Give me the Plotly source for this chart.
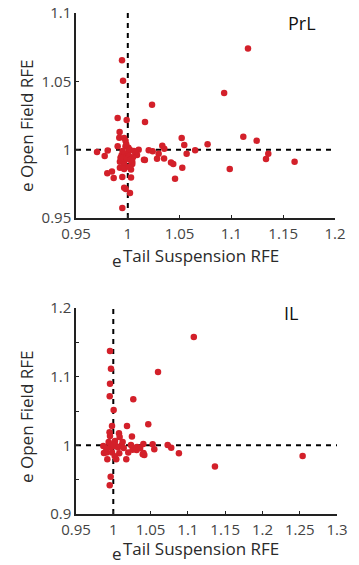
import plotly.graph_objects as go

# ---- PrL panel data ----
prl_x = [1.116, 1.093, 1.1115, 1.1244, 1.1356, 1.1334, 1.161, 1.0984, 1.077, 1.065,
         1.052, 1.0545, 1.0568, 1.0526, 1.0456, 1.0417, 1.0439, 1.035, 1.0333, 1.0352,
         1.0298, 1.0282, 1.0234, 1.024, 1.0202, 1.0166, 1.0156, 1.0165, 1.0105, 1.0089,
         1.0075, 1.005, 1.0043, 1.0031, 1.0031, 1.0021, 0.998, 0.9965, 0.9947, 0.9947,
         0.9944, 0.9954, 0.9989, 0.9902, 0.9921, 0.9918, 0.9965, 0.9978, 0.9902, 0.9978,
         1.0006, 0.9703, 0.9777, 0.9806, 0.9802, 0.9847, 0.9864, 0.9924, 0.9924, 0.9965,
         0.9978, 0.9965, 1.0, 1.0012, 0.9965, 1.0043, 1.0012, 0.999, 0.994, 1.002,
         0.9985, 1.0025, 0.995, 1.006, 0.993]
prl_y = [1.074, 1.0415, 1.0095, 1.0066, 0.9971, 0.9932, 0.9912, 0.9859, 1.0039, 0.9995,
         1.0086, 1.0034, 0.9971, 0.9868, 0.9788, 0.9907, 0.9895, 0.9936, 1.0029, 1.0007,
         0.9971, 0.9934, 1.0329, 0.9988, 0.9995, 1.0203, 0.9927, 0.9925, 1.0, 0.9961,
         0.998, 0.9944, 0.9912, 0.9854, 0.9797, 0.9683, 0.9712, 0.9722, 0.9573, 0.98,
         1.0654, 1.0505, 1.0217, 1.0232, 1.013, 1.0088, 1.0085, 1.0065, 1.0025, 1.0025,
         1.0014, 0.9983, 0.9954, 0.9993, 0.9827, 0.9841, 0.9793, 0.9912, 0.9868, 0.9895,
         0.9932, 0.9951, 0.9976, 0.9951, 0.9859, 0.9895, 0.9873, 0.9932, 0.996, 1.0,
         1.004, 0.9925, 0.999, 0.999, 0.994]

# ---- IL panel data ----
il_x = [1.108, 1.06, 1.2539, 1.1363, 1.088, 1.0777, 1.0729, 1.0528, 1.055, 1.0469,
        1.0268, 1.025, 1.0184, 1.0076, 0.9956, 0.9969, 0.9956, 0.9952, 1.0005, 0.9983,
        0.9965, 0.9952, 1.0403, 1.0416, 1.0395, 1.0313, 1.0318, 1.036, 1.0237, 1.0174,
        1.0201, 1.0112, 1.008, 1.004, 0.992, 0.9911, 0.9866, 0.9875, 0.9938, 0.9956,
        0.995, 1.0023, 1.003, 0.9996, 0.9983, 1.002, 1.0125, 1.014, 1.0063, 0.996,
        0.9905, 0.999, 1.0085, 1.0258, 1.0285, 1.0405]
il_y = [1.1577, 1.1067, 0.9844, 0.969, 0.9884, 0.9966, 1.0005, 1.0015, 0.9942, 1.0306,
        1.067, 1.0127, 1.0281, 1.0175, 1.1373, 1.1116, 1.0898, 1.0713, 1.0514, 1.0281,
        0.9544, 0.9418, 1.0019, 0.9859, 0.987, 0.9932, 0.9975, 0.996, 1.0005, 0.9796,
        0.9894, 1.0, 0.9884, 0.9796, 0.9796, 0.9894, 0.999, 0.989, 1.0048, 1.0136,
        1.019, 1.0063, 0.9995, 0.9985, 0.9894, 0.984, 1.005, 0.996, 0.997, 0.997,
        0.9958, 1.0015, 1.012, 0.9935, 0.996, 0.989]

prl_xticks = [0.95, 1, 1.05, 1.1, 1.15, 1.2]
prl_xlabels = ["0.95", "1", "1.05", "1.1", "1.15", "1.2"]
prl_yticks = [0.95, 1, 1.05, 1.1]
prl_ylabels = ["0.95", "1", "1.05", "1.1"]
il_xticks = [0.95, 1, 1.05, 1.1, 1.15, 1.2, 1.25, 1.3]
il_xlabels = ["0.95", "1", "1.05", "1.1", "1.15", "1.2", "1.25", "1.3"]
il_yticks = [0.9, 1, 1.1, 1.2]
il_ylabels = ["0.9", "1", "1.1", "1.2"]
il_yminor = [0.95, 1.05, 1.15]

RED = "#d3202a"
FONT = "Open Sans"
TICKCOL = "#444444"
TITLECOL = "#2a2a2a"
W, H = 359, 565

fig = go.Figure()
fig.add_trace(go.Scatter(x=prl_x, y=prl_y, mode="markers", xaxis="x", yaxis="y",
                         marker=dict(color=RED, size=6.5, line=dict(width=0)), showlegend=False))
fig.add_trace(go.Scatter(x=il_x, y=il_y, mode="markers", xaxis="x2", yaxis="y2",
                         marker=dict(color=RED, size=6.5, line=dict(width=0)), showlegend=False))

dash = dict(color="black", width=2, dash="5px,5px")
fig.add_shape(type="line", xref="x", yref="y", x0=1, x1=1, y0=0.95, y1=1.1, line=dash, layer="below")
fig.add_shape(type="line", xref="x", yref="y", x0=0.95, x1=1.2, y0=1, y1=1, line=dash, layer="below")
fig.add_shape(type="line", xref="x2", yref="y2", x0=1, x1=1, y0=0.9, y1=1.2, line=dash, layer="below")
fig.add_shape(type="line", xref="x2", yref="y2", x0=0.95, x1=1.3, y0=1, y1=1, line=dash, layer="below")

ax_common = dict(showgrid=False, zeroline=False, showline=True, linecolor="#222222", linewidth=1.5,
                 ticks="inside", ticklen=3, tickwidth=1, tickcolor="#222222", automargin=False,
                 tickfont=dict(family=FONT, size=15, color=TICKCOL))

xtitle = "Tail Suspension RFE"
xprefix = "e"
ytitle = "e Open Field RFE"
tfont = dict(family=FONT, size=17, color=TITLECOL)


def px(xp, yp):
    return xp / W, 1 - yp / H


annots = []
for (xp, yp, txt, ang, fnt) in [
    (201, 255, xtitle, 0, tfont),
    (117, 260, xprefix, 0, tfont),
    (201, 548, xtitle, 0, tfont),
    (117, 553, xprefix, 0, tfont),
    (27, 126, ytitle, -90, tfont),
    (27, 417, ytitle, -90, tfont),
    (302, 23, "PrL", 0, dict(family=FONT, size=18, color="#111111")),
    (291, 313, "IL", 0, dict(family=FONT, size=18, color="#111111")),
]:
    ax_, ay_ = px(xp, yp)
    annots.append(dict(text=txt, x=ax_, y=ay_, xref="paper", yref="paper", showarrow=False,
                       textangle=ang, font=fnt, xanchor="center", yanchor="middle"))

fig.update_layout(
    width=W, height=H,
    margin=dict(l=0, r=0, t=0, b=0, autoexpand=False),
    paper_bgcolor="white", plot_bgcolor="white",
    xaxis=dict(domain=[76 / W, 335 / W], range=[0.95, 1.2], tickvals=prl_xticks, ticktext=prl_xlabels,
               anchor="y", ticklabelstandoff=1, **ax_common),
    yaxis=dict(domain=[1 - 218 / H, 1 - 13 / H], range=[0.95, 1.1], tickvals=prl_yticks,
               ticktext=prl_ylabels, anchor="x", **ax_common),
    xaxis2=dict(domain=[76 / W, 337 / W], range=[0.95, 1.3], tickvals=il_xticks, ticktext=il_xlabels,
                anchor="y2", ticklabelstandoff=1, **ax_common),
    yaxis2=dict(domain=[1 - 514 / H, 1 - 308 / H], range=[0.9, 1.2], tickvals=il_yticks,
                ticktext=il_ylabels, anchor="x2",
                minor=dict(tickvals=il_yminor, ticks="inside", ticklen=3, tickcolor="#222222"),
                **ax_common),
    annotations=annots,
)

fig.write_html("out.html", config={"displayModeBar": False},
               post_script="document.body.style.margin='0';")
